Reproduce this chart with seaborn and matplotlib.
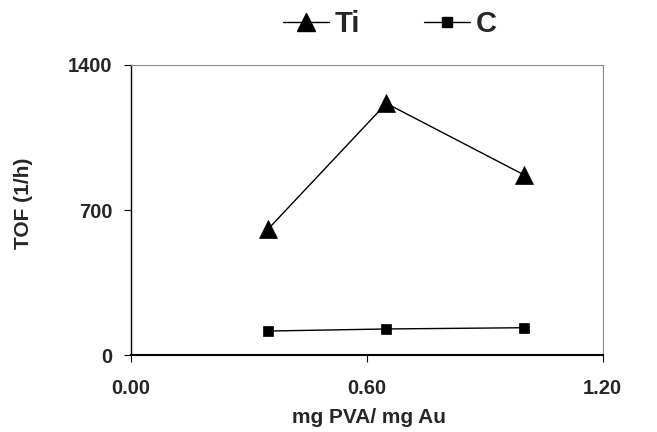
import matplotlib
matplotlib.use("Agg")
import matplotlib.pyplot as plt
import seaborn as sns
import pandas as pd
from matplotlib.lines import Line2D

x_vals = [0.35, 0.65, 1.0]
ti_vals = [610, 1215, 870]
c_vals = [117, 127, 133]
series_names = ["Ti", "C"]
x_ticks = [0.0, 0.6, 1.2]
x_tick_labels = ["0.00", "0.60", "1.20"]
y_ticks = [0, 700, 1400]
y_tick_labels = ["0", "700", "1400"]

sns.set_theme(style="white")
plt.rcParams['font.family'] = ['Liberation Sans', 'DejaVu Sans']

df = pd.DataFrame({
    "x": x_vals * 2,
    "y": ti_vals + c_vals,
    "series": [series_names[0]] * 3 + [series_names[1]] * 3,
})

fig = plt.figure(figsize=(6.57, 4.32), dpi=100)
ax = fig.add_axes([130.7 / 657, 1 - 355.3 / 432, 472 / 657, 290.3 / 432])

sns.lineplot(data=df, x="x", y="y", hue="series", style="series",
             markers={"Ti": "^", "C": "s"}, dashes=False,
             palette={"Ti": "black", "C": "black"},
             linewidth=1.0, ax=ax, legend=False)
for line, ms in zip(ax.lines, [12.5, 7.2]):
    line.set_markersize(ms)
    line.set_markeredgecolor("black")
    line.set_markerfacecolor("black")
    line.set_markeredgewidth(0.5)

ax.set_xlim(0, 1.2)
ax.set_ylim(0, 1400)
ax.set_xticks(x_ticks)
ax.set_xticklabels(x_tick_labels, fontsize=14.5, fontweight="bold")
ax.set_yticks(y_ticks)
ax.set_yticklabels(y_tick_labels, fontsize=14.5, fontweight="bold")
ax.tick_params(axis="both", direction="out", length=5, width=0.8, color="black",
               left=True, bottom=True)
ax.tick_params(axis="x", pad=12)
ax.tick_params(axis="y", pad=8)
ax.set_xlabel("mg PVA/ mg Au", fontsize=15, fontweight="bold")
ax.set_ylabel("TOF (1/h)", fontsize=15, fontweight="bold")
ax.xaxis.set_label_coords(0.505, -0.18)
ax.yaxis.set_label_coords(-0.208, 0.523)

ax.spines["left"].set_color("black")
ax.spines["left"].set_linewidth(1.0)
ax.spines["bottom"].set_color("black")
ax.spines["bottom"].set_linewidth(1.5)
for s in ["top", "right"]:
    ax.spines[s].set_color("#888888")
    ax.spines[s].set_linewidth(0.8)

handles = [Line2D([], [], color="black", marker="^", markersize=13.5, linewidth=1.0),
           Line2D([], [], color="black", marker="s", markersize=6.5, linewidth=1.0)]
fig.legend(handles, series_names, loc="center", bbox_to_anchor=(390 / 657, 1 - 24 / 432),
           ncol=2, frameon=False, prop={"weight": "bold", "size": 21},
           handlelength=1.57, columnspacing=2.2, handletextpad=0.2)

fig.savefig("out.png", dpi=100)
